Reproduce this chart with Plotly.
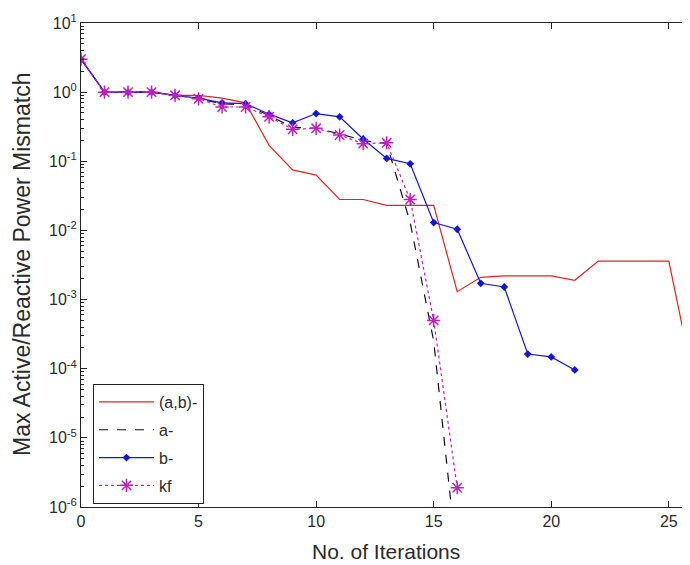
import plotly.graph_objects as go

# ---- data ----
iters_ab = list(range(0, 27))
vals_ab = [3.0, 1.0, 1.0, 1.0, 0.9, 0.9, 0.82, 0.70, 0.17, 0.075, 0.063, 0.028, 0.028,
           0.023, 0.023, 0.023, 0.0013, 0.0021, 0.0022, 0.0022, 0.0022, 0.0019,
           0.0036, 0.0036, 0.0036, 0.0036, 0.00008]

iters_a = list(range(0, 17))
vals_a = [3.0, 1.0, 1.0, 1.0, 0.9, 0.8, 0.68, 0.65, 0.46, 0.31, 0.30, 0.25, 0.20,
          0.18, 0.013, 0.00025, 1.6e-7]

iters_b = list(range(0, 22))
vals_b = [3.0, 1.0, 1.0, 1.0, 0.9, 0.82, 0.70, 0.68, 0.48, 0.36, 0.49, 0.44, 0.21,
          0.11, 0.092, 0.013, 0.0104, 0.00172, 0.00152, 0.000163, 0.000148, 0.000096]

iters_kf = list(range(0, 17))
vals_kf = [3.0, 1.0, 1.0, 1.0, 0.9, 0.8, 0.61, 0.61, 0.44, 0.29, 0.30, 0.24, 0.18,
           0.185, 0.028, 0.0005, 1.9e-6]

x_ticks = [0, 5, 10, 15, 20, 25]
y_exponents = [1, 0, -1, -2, -3, -4, -5, -6]

FONT = "Liberation Sans, Arial, sans-serif"
TXT = "#2a2a2a"

fig = go.Figure()
fig.add_trace(go.Scatter(x=iters_ab, y=vals_ab, mode="lines", name="(a,b)-",
                         line=dict(color="#e02424", width=1.2), legendgroup="g1"))
fig.add_trace(go.Scatter(x=iters_a, y=vals_a, mode="lines", name="a-",
                         line=dict(color="#111111", width=1.2, dash="dash"), legendgroup="g2"))
fig.add_trace(go.Scatter(x=iters_b, y=vals_b, mode="lines+markers", name="b-",
                         line=dict(color="#1414dc", width=1.2),
                         marker=dict(symbol="diamond", size=6, color="#1414dc"), legendgroup="g3"))
fig.add_trace(go.Scatter(x=iters_kf, y=vals_kf, mode="lines+markers", name="kf",
                         line=dict(color="#c020c0", width=1.2, dash="dot"),
                         marker=dict(symbol="asterisk-open", size=11,
                                     line=dict(color="#c020c0", width=1.5)), legendgroup="g4"))

minor_vals = [m * 10.0 ** e for e in range(-6, 1) for m in range(2, 10)]

axis_common = dict(showline=True, linecolor="#222222", linewidth=1, mirror="ticks",
                   ticks="inside", tickcolor="#222222", showgrid=False, zeroline=False,
                   tickfont=dict(family=FONT, size=16, color=TXT))

fig.update_xaxes(range=[0, 25.9], tickmode="array", tickvals=x_ticks,
                 ticktext=[str(v) for v in x_ticks], ticklen=6, **axis_common)
fig.update_yaxes(type="log", range=[-6, 1], tickmode="array",
                 tickvals=[10.0 ** e for e in y_exponents],
                 ticktext=[f"10<sup>{e}</sup>" for e in y_exponents], ticklen=6,
                 minor=dict(ticks="inside", ticklen=3, tickcolor="#222222",
                            tickmode="array", tickvals=minor_vals, showgrid=False),
                 **axis_common)

# the page body has an 8px margin, so the figure is sized/offset to compensate
fig.update_layout(
    width=682, height=557,
    margin=dict(l=73, r=0, t=15, b=58),
    paper_bgcolor="white", plot_bgcolor="white",
    font=dict(family=FONT, color=TXT),
    legend=dict(x=0.0197, y=0.254, xanchor="left", yanchor="top",
                bgcolor="white", bordercolor="#222222", borderwidth=1,
                font=dict(family=FONT, size=16, color=TXT),
                itemwidth=55,
                tracegroupgap=4, traceorder="grouped"),
    annotations=[
        dict(text="No. of Iterations", xref="paper", yref="paper", x=0.5, y=0,
             xanchor="center", yanchor="top", yshift=-31, showarrow=False,
             font=dict(family=FONT, size=21, color=TXT)),
        dict(text="Max Active/Reactive Power Mismatch", xref="paper", yref="paper",
             x=0, y=0.5, xanchor="center", yanchor="middle", xshift=-59,
             textangle=-90, showarrow=False,
             font=dict(family=FONT, size=23, color=TXT)),
    ],
)

fig.write_html("out.html")
